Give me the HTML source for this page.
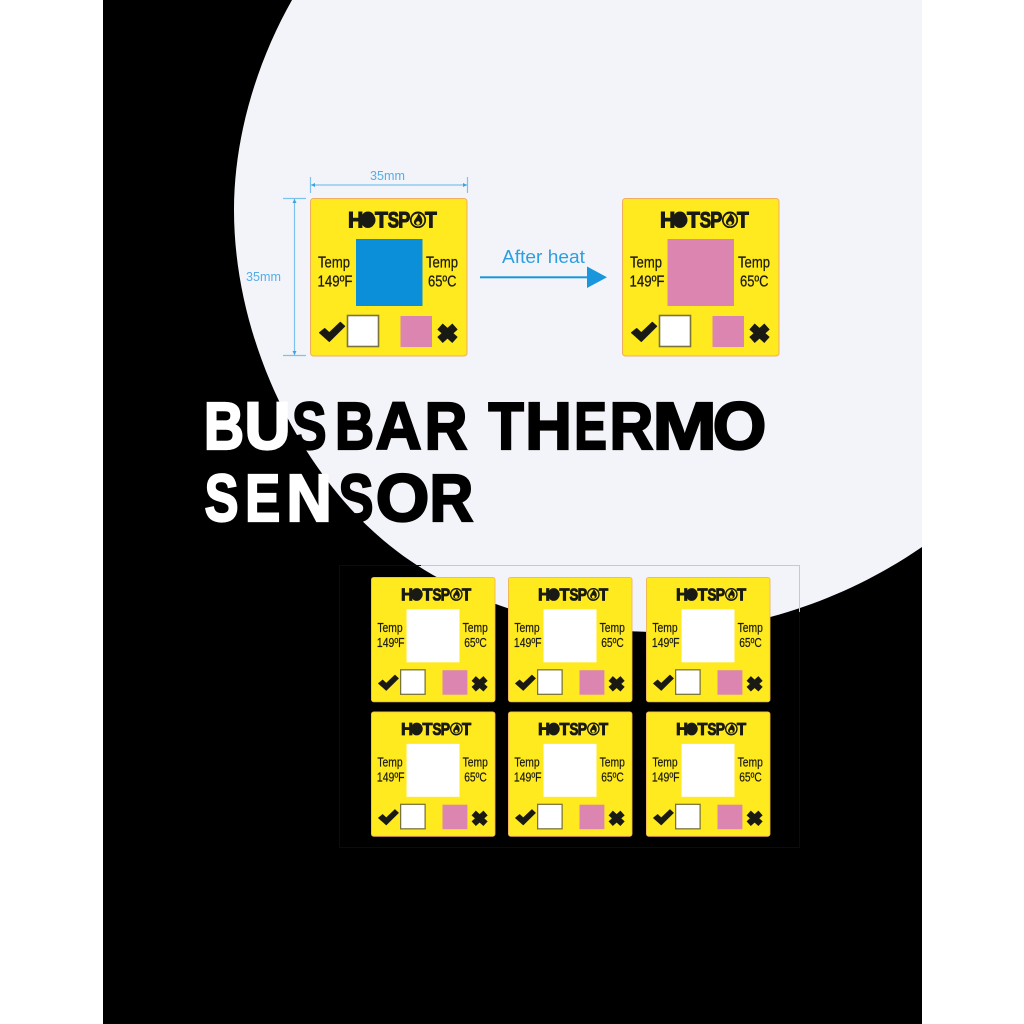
<!DOCTYPE html>
<html>
<head>
<meta charset="utf-8">
<style>
html,body{margin:0;padding:0;background:#fff}
svg{display:block}
text{font-family:"Liberation Sans",sans-serif}
</style>
</head>
<body>
<svg width="1024" height="1024" viewBox="0 0 1024 1024" xmlns="http://www.w3.org/2000/svg">
<defs>
<g id="card">
  <rect x="0.5" y="0.5" width="156.5" height="157.5" rx="3" fill="#ffe91f" stroke="#f0ad62" stroke-width="1"/>
  <text y="29.5" font-size="22" font-weight="700" fill="#1a1a14" stroke="#1a1a14" stroke-width="1.100" lengthAdjust="spacingAndGlyphs"><tspan x="38" textLength="15.3" lengthAdjust="spacingAndGlyphs">H</tspan><tspan x="51" textLength="14" lengthAdjust="spacingAndGlyphs">O</tspan><tspan x="65" textLength="12.900" lengthAdjust="spacingAndGlyphs">T</tspan><tspan x="77.800" textLength="11.300" lengthAdjust="spacingAndGlyphs">S</tspan><tspan x="88.200" textLength="12" lengthAdjust="spacingAndGlyphs">P</tspan><tspan x="100.500" textLength="15" lengthAdjust="spacingAndGlyphs">O</tspan><tspan x="115" textLength="11.800" lengthAdjust="spacingAndGlyphs">T</tspan></text>
  <circle cx="58" cy="22" r="7.500" fill="#1a1a14"/>
  <circle cx="108" cy="22" r="7.200" fill="#ffe91f" stroke="#1a1a14" stroke-width="1.700"/>
  <path d="M108.500,15.500C112,19 113,22 112,25C111,28 105,28.500 104,25C103.500,22 106,21 108.500,15.500Z" fill="#1a1a14"/>
  <circle cx="108" cy="25" r="1.800" fill="#ffe91f"/>
  <text x="8" y="69.500" font-size="16" textLength="32" lengthAdjust="spacingAndGlyphs" fill="#1a1a14" stroke="#1a1a14" stroke-width=".25">Temp</text>
  <text x="7.500" y="88.500" font-size="16" textLength="35" lengthAdjust="spacingAndGlyphs" fill="#1a1a14" stroke="#1a1a14" stroke-width=".25">149ºF</text>
  <text x="116" y="69.500" font-size="16" textLength="32" lengthAdjust="spacingAndGlyphs" fill="#1a1a14" stroke="#1a1a14" stroke-width=".25">Temp</text>
  <text x="118" y="88.500" font-size="16" textLength="28.500" lengthAdjust="spacingAndGlyphs" fill="#1a1a14" stroke="#1a1a14" stroke-width=".25">65ºC</text>
  <polygon points="9.500,134.700 14.700,130.500 19.300,134.700 30.300,124.300 34.700,128.300 19.300,143.500" fill="#1a1a14" stroke="#1a1a14" stroke-width="1" stroke-linejoin="round"/>
  <rect x="37.500" y="117.500" width="31" height="31" fill="#fff" stroke="#7a7438" stroke-width="1.600"/>
  <rect x="90.500" y="118" width="31.500" height="31" fill="#dc85b0"/>
  <path d="M130,128.500L145,142M145,128.500L130,142" stroke="#1a1a14" stroke-width="8" fill="none"/>
</g>
<g id="sm"><use href="#card"/><rect x="45" y="41" width="67" height="67" fill="#fff"/></g>
</defs>

<rect x="0" y="0" width="1024" height="1024" fill="#fff"/>
<rect x="103" y="0" width="819" height="1024" fill="#000"/>
<path d="M292,0C258,60 234,135 234,210C234,340 300,470 383,540C450,597 550,632 660,632C750,632 845,600 922,547L922,0Z" fill="#f3f4f9"/>

<!-- top diagram -->
<g stroke="#7cc2ec" stroke-width="1.200" fill="none">
  <path d="M310.500,177V193M467.500,177V193M311,185H467"/>
  <path d="M283,198.500H306M283,355.500H306M294.500,199V355"/>
</g>
<g fill="#3aa3e2">
  <polygon points="311,185 315,183 315,187"/>
  <polygon points="467,185 463,183 463,187"/>
  <polygon points="294.500,199 292.500,203 296.500,203"/>
  <polygon points="294.500,355 292.500,351 296.500,351"/>
</g>
<text x="370" y="180" font-size="12.500" textLength="35" lengthAdjust="spacingAndGlyphs" fill="#55ade6">35mm</text>
<text x="246" y="281" font-size="12.500" textLength="35" lengthAdjust="spacingAndGlyphs" fill="#55ade6">35mm</text>

<g transform="translate(310,198)">
  <use href="#card"/>
  <rect x="46" y="41" width="66.500" height="67" fill="#0a8fd8"/>
</g>
<g transform="translate(622,198)">
  <use href="#card"/>
  <rect x="45.500" y="41" width="66.500" height="67" fill="#dc85b0"/>
</g>

<text x="502" y="263" font-size="18" textLength="83" lengthAdjust="spacingAndGlyphs" fill="#2d9ee0">After heat</text>
<rect x="480" y="276.300" width="110" height="2" fill="#1a96dc"/>
<polygon points="587,266.500 607,277.300 587,288" fill="#1a96dc"/>

<!-- bottom image frame -->
<path d="M339.500,847.500V565.500H799.500V847.500Z" fill="none" stroke="#0c0c0c" stroke-width="1"/>
<path d="M421,565.500H799.500V612" fill="none" stroke="#c8c9d0" stroke-width="1"/>

<g transform="translate(371,577) scale(.79)"><use href="#sm"/></g>
<g transform="translate(508,577) scale(.79)"><use href="#sm"/></g>
<g transform="translate(646,577) scale(.79)"><use href="#sm"/></g>
<g transform="translate(371,711.500) scale(.79)"><use href="#sm"/></g>
<g transform="translate(508,711.500) scale(.79)"><use href="#sm"/></g>
<g transform="translate(646,711.500) scale(.79)"><use href="#sm"/></g>

<!-- title -->
<text y="449" font-size="66.500" font-weight="700" stroke-width="2.200"><tspan fill="#fff" stroke="#fff"><tspan x="203.900" textLength="40.200" lengthAdjust="spacingAndGlyphs">B</tspan><tspan x="244.500" textLength="46.100" lengthAdjust="spacingAndGlyphs">U</tspan></tspan><tspan fill="#000" stroke="#000"><tspan x="292" textLength="34.500" lengthAdjust="spacingAndGlyphs">S</tspan><tspan x="335" textLength="39.100" lengthAdjust="spacingAndGlyphs">B</tspan><tspan x="375.600" textLength="46" lengthAdjust="spacingAndGlyphs">A</tspan><tspan x="424.600" textLength="42.700" lengthAdjust="spacingAndGlyphs">R</tspan> <tspan x="488.400" textLength="35.400" lengthAdjust="spacingAndGlyphs">T</tspan><tspan x="525.300" textLength="46.600" lengthAdjust="spacingAndGlyphs">H</tspan><tspan x="574.300" textLength="32.600" lengthAdjust="spacingAndGlyphs">E</tspan><tspan x="609.500" textLength="43.800" lengthAdjust="spacingAndGlyphs">R</tspan><tspan x="652.500" textLength="64.300" lengthAdjust="spacingAndGlyphs">M</tspan><tspan x="712.800" textLength="53.600" lengthAdjust="spacingAndGlyphs">O</tspan></tspan></text>
<text y="521" font-size="66.500" font-weight="700" stroke-width="2.200"><tspan fill="#fff" stroke="#fff"><tspan x="204.600" textLength="33.900" lengthAdjust="spacingAndGlyphs">S</tspan><tspan x="245.100" textLength="35.100" lengthAdjust="spacingAndGlyphs">E</tspan><tspan x="286.400" textLength="45.400" lengthAdjust="spacingAndGlyphs">N</tspan></tspan><tspan fill="#000" stroke="#000"><tspan x="338.500" textLength="35" lengthAdjust="spacingAndGlyphs">S</tspan><tspan x="375.800" textLength="53.600" lengthAdjust="spacingAndGlyphs">O</tspan><tspan x="429.500" textLength="43.800" lengthAdjust="spacingAndGlyphs">R</tspan></tspan></text>
</svg>
</body>
</html>
